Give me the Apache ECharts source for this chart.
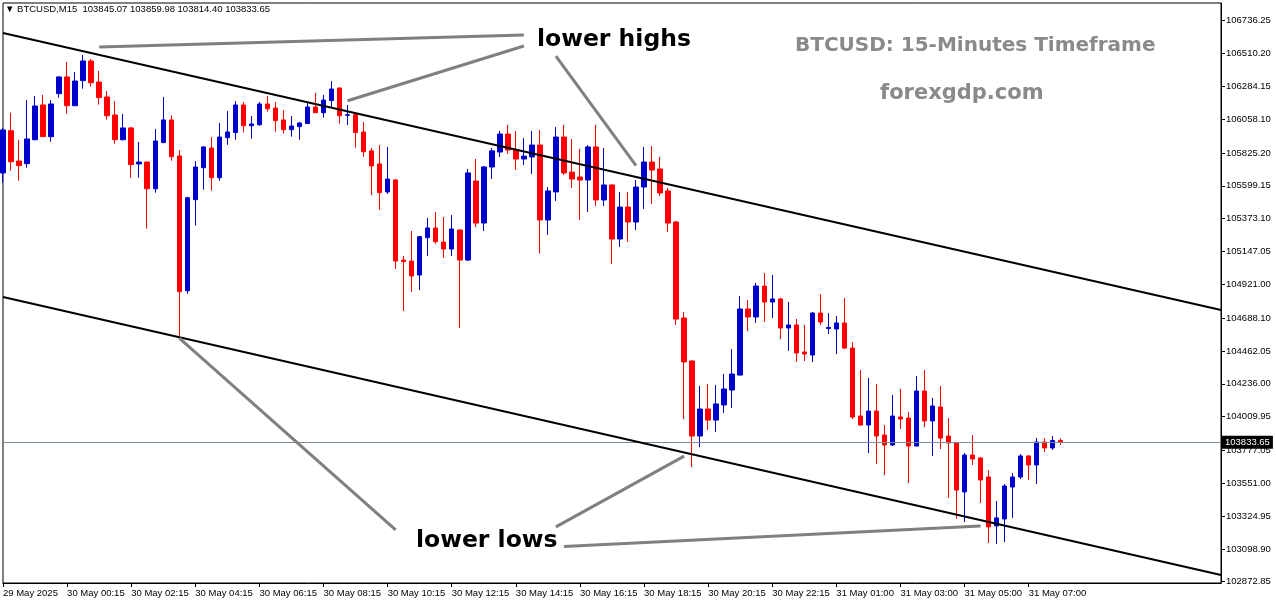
<!DOCTYPE html>
<html>
<head>
<meta charset="utf-8">
<script src="https://cdn.jsdelivr.net/npm/echarts@6.0.0/dist/echarts.min.js"></script>
<style>
html,body{margin:0;padding:0;background:#fff;}
#chart{width:1276px;height:604px;}
</style>
</head>
<body>
<div id="chart"></div>
<script>
// ---- data (BTCUSD M15) ----
const symbolName = "BTCUSD,M15";
const timeTickLabels = ["29 May 2025","30 May 00:15","30 May 02:15","30 May 04:15","30 May 06:15","30 May 08:15","30 May 10:15","30 May 12:15","30 May 14:15","30 May 16:15","30 May 18:15","30 May 20:15","30 May 22:15","31 May 01:00","31 May 03:00","31 May 05:00","31 May 07:00"];
const priceTickLabels = [106736.25,106510.20,106284.15,106058.10,105825.20,105599.15,105373.10,105147.05,104921.00,104688.10,104462.05,104236.00,104009.95,103777.05,103551.00,103324.95,103098.90,102872.85];
const opens = [105688,105979,105770,105752,105917,106156,105938,106234,106349,106151,106324,106459,106314,106211,106087,105917,105998,105750,105763,105579,105897,106053,105805,104877,105504,105724,105860,105655,105931,105966,106156,106013,106020,106163,106135,106053,105986,106007,106028,106142,106103,106186,106273,106085,106089,105970,105840,105750,105557,105639,105088,105081,104985,105242,105309,105212,105164,105295,105088,105632,105343,105729,105832,105956,105846,105784,105798,105880,105364,105557,105935,105694,105660,105639,105867,105502,105605,105233,105453,105350,105591,105763,105715,105564,105350,104689,104393,103876,104062,103986,104090,104193,104296,104751,104696,104909,104799,104820,104620,104641,104455,104434,104723,104617,104613,104655,104482,104014,103952,104048,103883,103814,104007,104000,103807,104186,103980,104076,103876,103828,103491,103745,103725,103594,103257,103305,103525,103594,103739,103677,103835,103794,103845.07];
const highs = [105998,106103,105915,106190,106218,106225,106190,106352,106452,106383,106500,106473,106390,106252,106183,106094,106004,105901,105766,105991,106211,106085,105846,105524,105770,105873,105935,106032,106114,106183,106177,106080,106177,106218,106177,106121,106080,106039,106170,106239,106225,106321,106276,106156,106094,106039,105860,105880,105867,105646,105116,105288,105254,105378,105419,105385,105398,105298,105715,105784,105736,105860,105977,106018,105977,105928,105977,105984,105591,106004,106018,105922,105853,105880,106018,105860,105608,105557,105557,105639,105867,105873,105798,105584,105357,104730,104396,104221,104234,104228,104303,104475,104840,104813,104930,104999,104985,104827,104799,104682,104641,104730,104854,104723,104703,104827,104524,104331,104276,104234,103952,104159,104200,104042,104290,104331,104138,104221,104000,103835,103759,103883,103732,103642,103429,103546,103621,103752,103742,103862,103862,103876,103859.98];
const lows = [105621,105703,105634,105724,105912,105935,105903,106206,106096,106148,106268,106282,106158,106055,105889,105911,105655,105655,105304,105552,105893,105772,104565,104856,105325,105573,105566,105634,105882,105917,105966,105924,106013,106110,105972,105959,105938,105917,106025,106100,106069,106138,106028,106018,105862,105800,105536,105433,105543,105026,104737,104868,104882,105116,105200,105102,105116,104620,105081,105316,105288,105646,105798,105818,105708,105742,105681,105133,105261,105495,105674,105584,105364,105419,105460,105460,105061,105178,105212,105295,105440,105474,105529,105281,104641,103993,103663,103800,103918,103904,104035,104069,104293,104599,104655,104661,104689,104544,104462,104386,104393,104386,104641,104579,104441,104476,103993,103945,103759,103683,103608,103807,103924,103553,103804,103938,103739,103787,103449,103305,103284,103677,103415,103139,103133,103146,103312,103580,103573,103546,103766,103780,103814.40];
const closes = [105984,105765,105738,105922,106149,105938,106163,106349,106151,106321,106459,106309,106207,106082,105917,105998,105745,105763,105579,105908,106053,105800,104870,105517,105729,105867,105655,105935,105970,106156,106013,106025,106163,106130,106048,105986,106011,106032,106142,106103,106190,106266,106082,106089,105966,105834,105736,105552,105646,105081,105077,104978,105249,105309,105214,105164,105302,105088,105688,105343,105729,105840,105956,105846,105784,105804,105880,105364,105564,105935,105688,105646,105639,105867,105502,105605,105233,105453,105350,105591,105763,105708,105550,105343,104682,104386,103876,104062,103986,104097,104200,104303,104751,104696,104909,104799,104820,104620,104641,104448,104441,104723,104661,104624,104655,104482,104007,103952,104048,103876,103814,104014,103993,103807,104186,103980,104083,103862,103828,103504,103745,103718,103573,103250,103312,103532,103594,103739,103677,103835,103794,103845,103833.65];
const currentPrice = 103833.65;
// trend channel and annotation pointer lines, as [barIndex, price] end points
const channelUpper = [[0,106652],[152,104744]];
const channelLower = [[0,104834],[152,102919]];
const pointerLines = [
  [[12.1,106555],[65.1,106638]],
  [[43.1,106185],[65.4,106562]],
  [[69.2,106493],[78.7,105738]],
  [[22.1,104551],[48.9,103229]],
  [[69.4,103250],[84.9,103738]],
  [[70.1,103116],[121.7,103256]]
];
const annotations = [
  {text:"lower highs", x:537, y:40, color:"#000", size:23.5},
  {text:"lower lows", x:416, y:541, color:"#000", size:23.5},
  {text:"BTCUSD: 15-Minutes Timeframe", x:795, y:46, color:"#8a8a8a", size:20},
  {text:"forexgdp.com", x:880, y:94, color:"#8a8a8a", size:21}
];
const totalSlots = 153;

// ---- build ----
const cats = [];
for (let i = 0; i < totalSlots; i++) {
  cats.push(i % 8 === 0 && (i / 8) < timeTickLabels.length ? timeTickLabels[i / 8] : '');
}
const showIdx = (idx) => idx % 8 === 0 && (idx / 8) < timeTickLabels.length;
const candleData = opens.map((o, i) => [o, closes[i], lows[i], highs[i]]);
const last = opens.length - 1;
const header = "\u25BC " + symbolName + "  " + opens[last].toFixed(2) + " " + highs[last].toFixed(2) + " " + lows[last].toFixed(2) + " " + closes[last].toFixed(2);

const lineSeries = (pts, color, width) => ({
  type: 'line', data: pts, symbol: 'none', silent: true, animation: false,
  lineStyle: {color: color, width: width}, z: 5, clip: false
});

const chart = echarts.init(document.getElementById('chart'), null, {renderer: 'canvas'});
const option = {
  animation: false,
  backgroundColor: '#fff',
  grid: {left: 3, right: 55, top: 3, bottom: 21, show: true, borderColor: '#000', borderWidth: 1, backgroundColor: 'transparent'},
  xAxis: {
    type: 'category', data: cats, boundaryGap: false,
    axisLine: {lineStyle: {color: '#000', width: 1}},
    axisTick: {show: true, interval: showIdx, length: 4, lineStyle: {color: '#000'}},
    axisLabel: {interval: showIdx, align: 'left', fontSize: 9.5, fontFamily: 'Liberation Sans', color: '#000', margin: 5, hideOverlap: false},
    splitLine: {show: false}
  },
  yAxis: {
    type: 'value', position: 'right', min: 102863.9, max: 106858.3, scale: true,
    axisLine: {show: true, lineStyle: {color: '#000', width: 1}},
    axisTick: {show: true, length: 4, customValues: priceTickLabels, lineStyle: {color: '#000'}},
    axisLabel: {customValues: priceTickLabels, formatter: v => Number(v).toFixed(2), fontSize: 9.5, fontFamily: 'Liberation Sans', color: '#000', margin: 5},
    splitLine: {show: false}
  },
  series: [
    {
      type: 'candlestick', data: candleData, barWidth: 5, z: 3,
      itemStyle: {color: '#0000CC', color0: '#FF0000', borderColor: '#0000CC', borderColor0: '#FF0000', borderWidth: 1},
      markLine: {
        silent: true, symbol: ['none', 'none'], animation: false,
        lineStyle: {color: '#7a8a99', width: 1, type: 'solid'},
        label: {show: true, position: 'end', distance: 1, formatter: p => Number(p.value).toFixed(2), color: '#fff', backgroundColor: '#000', padding: [2, 3, 1, 3], fontSize: 9.5, fontFamily: 'Liberation Sans'},
        data: [{yAxis: currentPrice}]
      }
    },
    lineSeries(channelUpper, '#000', 2),
    lineSeries(channelLower, '#000', 2),
    ...pointerLines.map(p => lineSeries(p, '#808080', 3))
  ],
  graphic: [
    {type: 'text', left: 5, top: 4, style: {text: header, font: '9.5px "Liberation Sans", "DejaVu Sans"', fill: '#000'}},
    ...annotations.map(a => ({type: 'text', x: a.x, y: a.y, style: {text: a.text, font: 'bold ' + a.size + 'px "DejaVu Sans"', fill: a.color, verticalAlign: 'middle', align: 'left'}}))
  ]
};
chart.setOption(option);
</script>
</body>
</html>
